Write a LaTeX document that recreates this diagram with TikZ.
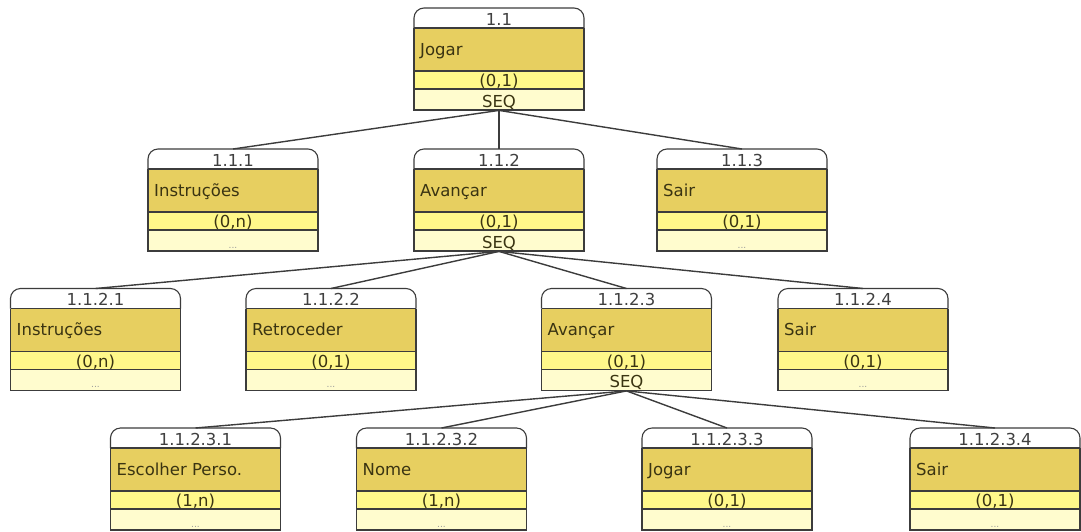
\documentclass[tikz,border=0pt]{standalone}
\usepackage{fontspec}
\setmainfont{DejaVu Sans}
\usepackage{tikz}

\definecolor{taskgold}{RGB}{231,207,96}
\definecolor{cardyellow}{RGB}{255,248,138}
\definecolor{footyellow}{RGB}{255,252,206}
\definecolor{inktext}{RGB}{58,52,18}
\definecolor{edgegray}{RGB}{60,60,60}

\tikzset{
  boxline/.style={draw=edgegray, line width=1.1pt},
  conn/.style={draw=edgegray, line width=1.4pt},
  boxtext/.style={inner sep=0pt, text=inktext, font=\fontsize{16.5}{18}\selectfont}
}

% footer of a task that has no children
\newcommand{\nofoot}{{\fontsize{9}{9}\selectfont\color{black!40}...}}

% task box: name, x of centre, y of top, number, label, cardinality, footer
\newcommand{\taskbox}[7]{%
  \begin{scope}[shift={(#2,#3)}]
    \node[inner sep=0pt, minimum width=170pt, minimum height=102pt, anchor=north] (#1) at (0,0) {};
    \fill[footyellow] (-85,81) rectangle (85,102);
    \fill[cardyellow] (-85,63) rectangle (85,81);
    \fill[taskgold] (-85,20) rectangle (85,63);
    \fill[white, rounded corners=10pt] (-85,20) -- (-85,0) -- (85,0) -- (85,20) -- cycle;
    \draw[boxline, rounded corners=10pt] (-85,20) -- (-85,0) -- (85,0) -- (85,20);
    \draw[boxline] (-85,20) -- (-85,102) -- (85,102) -- (85,20);
    \draw[boxline] (-85,20) -- (85,20) (-85,63) -- (85,63) (-85,81) -- (85,81);
    \node[boxtext, anchor=base, text=black!75] at (0,17) {#4};
    \node[boxtext, anchor=base west] at (-79,47) {#5};
    \node[boxtext, anchor=base] at (0,78.5) {#6};
    \node[boxtext, anchor=base] at (0,99) {#7};
  \end{scope}}

\begin{document}
\begin{tikzpicture}[x=1pt, y=-1pt]
\useasboundingbox (0,0) rectangle (1081,531);

\taskbox{t11}{499}{8}{1.1}{Jogar}{(0,1)}{SEQ}

\taskbox{t111}{233}{149}{1.1.1}{Instruções}{(0,n)}{\nofoot}
\taskbox{t112}{499}{149}{1.1.2}{Avançar}{(0,1)}{SEQ}
\taskbox{t113}{742}{149}{1.1.3}{Sair}{(0,1)}{\nofoot}

\taskbox{t1121}{95.5}{288.5}{1.1.2.1}{Instruções}{(0,n)}{\nofoot}
\taskbox{t1122}{331}{288.5}{1.1.2.2}{Retroceder}{(0,1)}{\nofoot}
\taskbox{t1123}{626.5}{288.5}{1.1.2.3}{Avançar}{(0,1)}{SEQ}
\taskbox{t1124}{863}{288.5}{1.1.2.4}{Sair}{(0,1)}{\nofoot}

\taskbox{t11231}{195.5}{428}{1.1.2.3.1}{Escolher Perso.}{(1,n)}{\nofoot}
\taskbox{t11232}{441.5}{428}{1.1.2.3.2}{Nome}{(1,n)}{\nofoot}
\taskbox{t11233}{727}{428}{1.1.2.3.3}{Jogar}{(0,1)}{\nofoot}
\taskbox{t11234}{995}{428}{1.1.2.3.4}{Sair}{(0,1)}{\nofoot}

% each SEQ task to its subtasks
\foreach \child in {t111,t112,t113}
  \draw[conn] (t11.south) -- (\child.north);
\foreach \child in {t1121,t1122,t1123,t1124}
  \draw[conn] (t112.south) -- (\child.north);
\foreach \child in {t11231,t11232,t11233,t11234}
  \draw[conn] (t1123.south) -- (\child.north);
\end{tikzpicture}
\end{document}
